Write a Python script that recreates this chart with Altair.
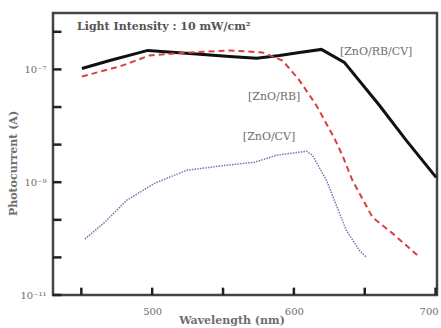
import altair as alt
import pandas as pd

# Photocurrent spectra under 10 mW/cm² illumination
wl_rbcv = [450.4, 470.1, 496.9, 526.5, 554.6, 573.7, 589.9, 603.9, 619.4, 635.6, 660.3, 679.3, 700.4]
i_rbcv = [1.04e-7, 1.44e-7, 2.17e-7, 1.92e-7, 1.70e-7, 1.57e-7, 1.77e-7, 2.0e-7, 2.26e-7, 1.33e-7, 2.31e-8, 5.5e-9, 1.22e-9]

wl_rb = [450.4, 477.2, 498.3, 526.5, 554.6, 577.9, 592.0, 603.9, 615.9, 628.6, 634.2, 641.3, 655.4, 669.4, 687.0]
i_rb = [7.5e-8, 1.13e-7, 1.77e-7, 2.0e-7, 2.17e-7, 2.0e-7, 1.44e-7, 6.4e-8, 2.3e-8, 6.0e-9, 3.0e-9, 1.08e-9, 2.4e-10, 1.25e-10, 5.1e-11]

wl_cv = [452.5, 466.6, 482.1, 501.8, 524.4, 552.5, 572.3, 587.7, 608.9, 613.1, 623.0, 634.2, 637.0, 646.2, 651.1]
i_cv = [9.8e-11, 1.96e-10, 4.8e-10, 9.6e-10, 1.63e-9, 2.0e-9, 2.26e-9, 3.0e-9, 3.54e-9, 3.0e-9, 1.08e-9, 2.1e-10, 1.41e-10, 6.2e-11, 4.7e-11]

# Axis ticks (only some of them carry a label)
x_ticks = [450, 500, 550, 600, 650, 700]
y_ticks = [1e-11, 4.64e-11, 2.15e-10, 1e-9, 4.64e-9, 2.15e-8, 1e-7, 4.64e-7]

# Curve annotations (left edge of each label)
ann_text = ["[ZnO/RB/CV]", "[ZnO/RB]", "[ZnO/CV]"]
ann_wl = [632.5, 567.6, 564.0]
ann_i = [2.0e-7, 3.2e-8, 6.25e-9]

FONT = "DejaVu Serif"
GRAY = "#6e6e6e"

X_MIN, X_MAX = 430, 701
Y_MIN, Y_MAX = 1e-11, 1e-6
W, H = 384, 282

x_scale = alt.Scale(domain=[X_MIN, X_MAX], nice=False, zero=False)
y_scale = alt.Scale(type="log", domain=[Y_MIN, Y_MAX], nice=False)

x_enc = alt.X(
    "wl:Q", scale=x_scale,
    axis=alt.Axis(values=x_ticks, domain=False, grid=False, ticks=False,
                  labelExpr="datum.value == 500 || datum.value == 600 || datum.value == 700 ? datum.label : ''",
                  labelOffset={"condition": {"test": "datum.value == 700", "value": -7}, "value": 0},
                  labelFont=FONT, labelFontSize=10, labelColor=GRAY, labelPadding=11,
                  labelFlush=False, labelBound=False, labelOverlap=False, title=None),
)
y_enc = alt.Y(
    "i:Q", scale=y_scale,
    axis=alt.Axis(values=y_ticks, domain=False, grid=False, ticks=False,
                  labelExpr=("abs(log(datum.value)/LN10 + 11) < 0.01 ? '10⁻¹¹' : "
                             "abs(log(datum.value)/LN10 + 9) < 0.01 ? '10⁻⁹' : "
                             "abs(log(datum.value)/LN10 + 7) < 0.01 ? '10⁻⁷' : ''"),
                  labelFont=FONT, labelFontSize=10, labelColor=GRAY, labelPadding=7,
                  labelOverlap=False,
                  title="Photocurrent (A)", titleFont=FONT, titleFontSize=11,
                  titleColor=GRAY, titleFontWeight="bold",
                  titleX=-40, titleY=150, titleAngle=270,
                  titleAlign="center", titleBaseline="middle"),
)


def curve(wl, cur, color, width, dash=None):
    df = pd.DataFrame({"wl": wl, "i": cur})
    kw = dict(color=color, strokeWidth=width)
    if dash:
        kw["strokeDash"] = dash
    return alt.Chart(df).mark_line(**kw).encode(x=x_enc, y=y_enc)


black = curve(wl_rbcv, i_rbcv, "#111111", 3.0)
red = curve(wl_rb, i_rb, "#d8403f", 2.0, [6, 4])
blue = curve(wl_cv, i_cv, "#6a7bb0", 1.5, [1.5, 1.2])

# Inward tick marks: each is a short segment from (wl, i) to (wl2, i2)
tick_df = pd.DataFrame({
    "wl": [X_MIN] * len(y_ticks) + x_ticks,
    "wl2": [X_MIN + 6.0] * len(y_ticks) + x_ticks,
    "i": y_ticks + [Y_MIN] * len(x_ticks),
    "i2": y_ticks + [Y_MIN * 1.35] * len(x_ticks),
})
ticks = alt.Chart(tick_df).mark_rule(color="#222222", strokeWidth=2.5, opacity=1).encode(
    x=alt.X("wl:Q", scale=x_scale), x2="wl2:Q",
    y=alt.Y("i:Q", scale=y_scale), y2="i2:Q")

ann = alt.Chart(pd.DataFrame({"t": ann_text, "wl": ann_wl, "i": ann_i})).mark_text(
    font=FONT, fontSize=11, color=GRAY, align="left", baseline="middle").encode(
    x=x_enc, y=y_enc, text="t:N")

title = alt.Chart(pd.DataFrame({"t": ["Light Intensity : 10 mW/cm²"]})).mark_text(
    font=FONT, fontSize=11, fontWeight="bold", color="#555", align="left", baseline="middle").encode(
    x=alt.value(24), y=alt.value(14), text="t:N")

xtitle = alt.Chart(pd.DataFrame({"t": ["Wavelength (nm)"]})).mark_text(
    font=FONT, fontSize=11, fontWeight="bold", color=GRAY, align="center", baseline="middle").encode(
    x=alt.value(179), y=alt.value(H + 26), text="t:N")

chart = alt.layer(ticks, black, red, blue, ann, title, xtitle).properties(
    width=W, height=H,
    autosize=alt.AutoSizeParams(type="none"),
    padding={"left": 53, "top": 13, "right": 4, "bottom": 33},
).configure(background="white").configure_view(stroke="#444", strokeWidth=2.5)

chart.save("out.html", embed_options={"renderer": "svg", "actions": False})
